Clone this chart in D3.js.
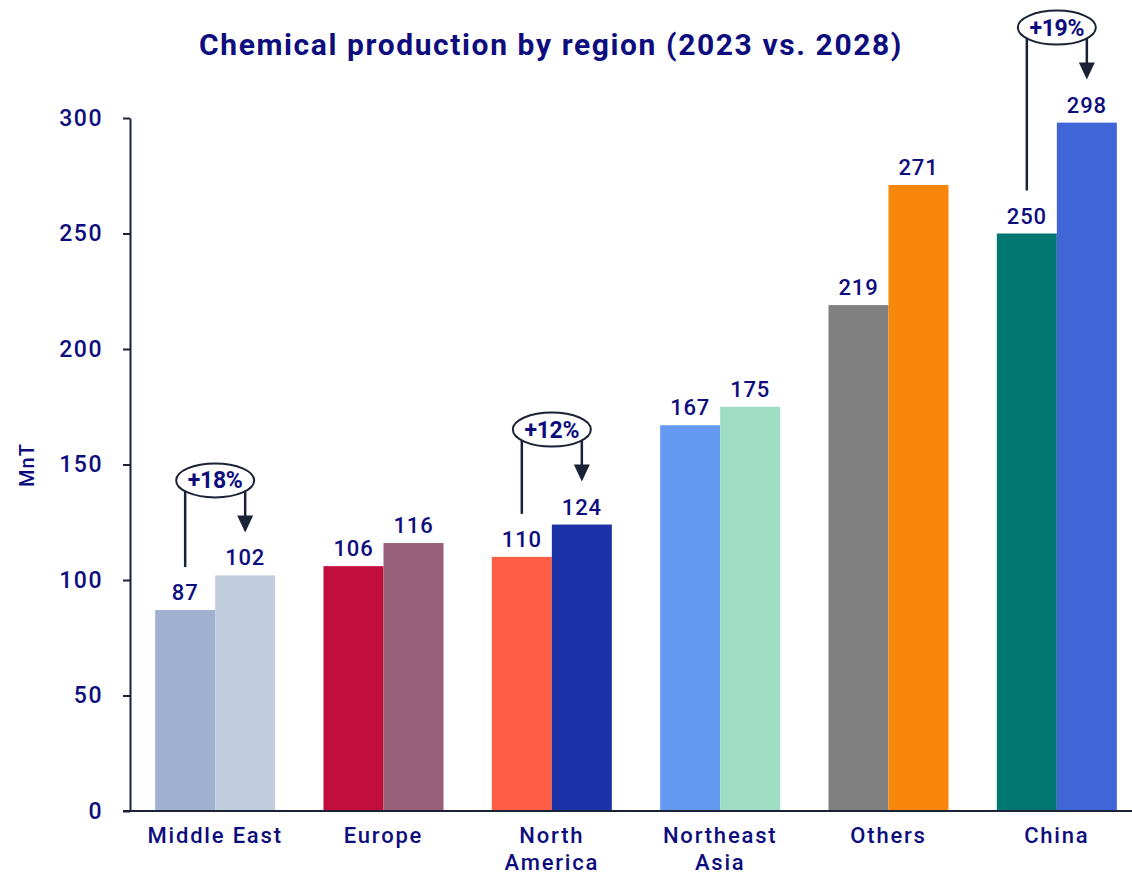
<!DOCTYPE html>
<html>
<head>
<meta charset="utf-8">
<script src="https://cdn.jsdelivr.net/npm/d3@7"></script>
<style>
  html, body { margin: 0; padding: 0; background: #ffffff; }
  svg { display: block; font-family: Roboto, "DejaVu Sans", sans-serif; }
</style>
</head>
<body>
<svg id="chart" width="1132" height="875"></svg>
<script>
// Regions and their production figures (MnT)
const regions = ["Middle East", "Europe", "North America", "Northeast Asia", "Others", "China"];
const regionLines = [["Middle East"], ["Europe"], ["North", "America"], ["Northeast", "Asia"], ["Others"], ["China"]];
const values2023 = [87, 106, 110, 167, 219, 250];
const values2028 = [102, 116, 124, 175, 271, 298];
const colors2023 = ["#a0b1cf", "#c10e3c", "#ff5e44", "#6699f1", "#808080", "#007770"];
const colors2028 = ["#c3cde0", "#976078", "#1c32a8", "#9edcc4", "#fa870d", "#4065d6"];
const growthRegions = ["Middle East", "North America", "China"];
const growthLabels = ["+18%", "+12%", "+19%"];
const yTicks = [0, 50, 100, 150, 200, 250, 300];

const navy = "#0d0d7d";
const axisColor = "#1b2236";

const svg = d3.select("#chart");
const margin = { left: 131, right: -9, top: 118, bottom: 64 };
const W = 1132, H = 875;

const x = d3.scaleBand()
  .domain(regions)
  .range([margin.left, W - margin.right])
  .paddingInner(0.287)
  .paddingOuter(0.1435);

const sub = d3.scaleBand()
  .domain(["2023", "2028"])
  .range([0, x.bandwidth()]);

const y = d3.scaleLinear()
  .domain([0, 300])
  .range([H - margin.bottom, margin.top]);

// Title
svg.append("text")
  .attr("x", 551)
  .attr("y", 55)
  .attr("text-anchor", "middle")
  .attr("font-size", 30)
  .attr("font-weight", 700)
  .attr("letter-spacing", 1.6)
  .attr("fill", navy)
  .text("Chemical production by region (2023 vs. 2028)");

// Y axis
const yAxis = svg.append("g")
  .attr("transform", `translate(${margin.left - 1},0)`)
  .call(d3.axisLeft(y).tickValues(yTicks).tickSize(7).tickSizeOuter(0).tickPadding(20));
yAxis.select(".domain").attr("stroke", axisColor).attr("stroke-width", 2);
yAxis.selectAll(".tick line").attr("stroke", axisColor).attr("stroke-width", 2);
yAxis.selectAll(".tick text")
  .attr("fill", navy)
  .attr("font-size", 23)
  .attr("font-weight", 500)
  .attr("letter-spacing", 1.5)
  .attr("font-family", "Roboto, sans-serif");

// Y axis title
svg.append("text")
  .attr("transform", `translate(34,465) rotate(-90)`)
  .attr("text-anchor", "middle")
  .attr("font-size", 20)
  .attr("font-weight", 500)
  .attr("letter-spacing", 1)
  .attr("fill", navy)
  .text("MnT");

// Bars
const groups = svg.append("g").selectAll("g")
  .data(regions)
  .join("g")
  .attr("transform", d => `translate(${x(d)},0)`);

groups.append("rect")
  .attr("x", sub("2023"))
  .attr("width", sub.bandwidth())
  .attr("y", (d, i) => y(values2023[i]))
  .attr("height", (d, i) => y(0) - y(values2023[i]))
  .attr("fill", (d, i) => colors2023[i]);

groups.append("rect")
  .attr("x", sub("2028"))
  .attr("width", sub.bandwidth())
  .attr("y", (d, i) => y(values2028[i]))
  .attr("height", (d, i) => y(0) - y(values2028[i]))
  .attr("fill", (d, i) => colors2028[i]);

// Value labels
groups.append("text")
  .attr("x", sub("2023") + sub.bandwidth() / 2)
  .attr("y", (d, i) => y(values2023[i]) - 10)
  .attr("text-anchor", "middle")
  .attr("font-size", 22)
  .attr("font-weight", 500)
  .attr("letter-spacing", 0.8)
  .attr("fill", navy)
  .text((d, i) => values2023[i]);

groups.append("text")
  .attr("x", sub("2028") + sub.bandwidth() / 2)
  .attr("y", (d, i) => y(values2028[i]) - 10)
  .attr("text-anchor", "middle")
  .attr("font-size", 22)
  .attr("font-weight", 500)
  .attr("letter-spacing", 0.8)
  .attr("fill", navy)
  .text((d, i) => values2028[i]);

// X axis baseline
svg.append("line")
  .attr("x1", margin.left - 8)
  .attr("x2", W)
  .attr("y1", y(0))
  .attr("y2", y(0))
  .attr("stroke", axisColor)
  .attr("stroke-width", 2);

// Category labels
const catLabels = svg.append("g").selectAll("text")
  .data(regions)
  .join("text")
  .attr("x", d => x(d) + x.bandwidth() / 2)
  .attr("y", y(0) + 32)
  .attr("text-anchor", "middle")
  .attr("font-size", 22)
  .attr("font-weight", 500)
  .attr("letter-spacing", 1.8)
  .attr("fill", navy);
catLabels.selectAll("tspan")
  .data((d, i) => regionLines[i])
  .join("tspan")
  .attr("x", function () { return d3.select(this.parentNode).attr("x"); })
  .attr("dy", (d, i) => i === 0 ? 0 : 27)
  .text(d => d);

// Growth callouts: line from the 2023 label up to an ellipse, arrow down to the 2028 label
const callouts = svg.append("g").selectAll("g")
  .data(growthRegions)
  .join("g");

callouts.each(function (region, k) {
  const i = regions.indexOf(region);
  const g = d3.select(this);
  const cx = x(region) + x.bandwidth() / 2;
  const x1 = x(region) + sub("2023") + sub.bandwidth() / 2;
  const x2 = x(region) + sub("2028") + sub.bandwidth() / 2;
  const cy = y(values2028[i]) - 95;
  const rx = 39, ry = 17;
  const tipY = y(values2028[i]) - 43;

  g.append("line")
    .attr("x1", x1).attr("x2", x1)
    .attr("y1", y(values2023[i]) - 43)
    .attr("y2", cy)
    .attr("stroke", axisColor)
    .attr("stroke-width", 2.5);

  g.append("line")
    .attr("x1", x2).attr("x2", x2)
    .attr("y1", cy)
    .attr("y2", tipY - 10)
    .attr("stroke", axisColor)
    .attr("stroke-width", 2.5);

  // arrow head
  g.append("path")
    .attr("d", `M${x2 - 8},${tipY - 17} L${x2 + 8},${tipY - 17} L${x2},${tipY} Z`)
    .attr("fill", axisColor);

  g.append("ellipse")
    .attr("cx", cx).attr("cy", cy)
    .attr("rx", rx).attr("ry", ry)
    .attr("fill", "#ffffff")
    .attr("stroke", axisColor)
    .attr("stroke-width", 2);

  g.append("text")
    .attr("x", cx)
    .attr("y", cy + 8)
    .attr("text-anchor", "middle")
    .attr("font-size", 23)
    .attr("font-weight", 700)
    .attr("letter-spacing", -0.3)
    .attr("fill", navy)
    .text(growthLabels[k]);
});
</script>
</body>
</html>
